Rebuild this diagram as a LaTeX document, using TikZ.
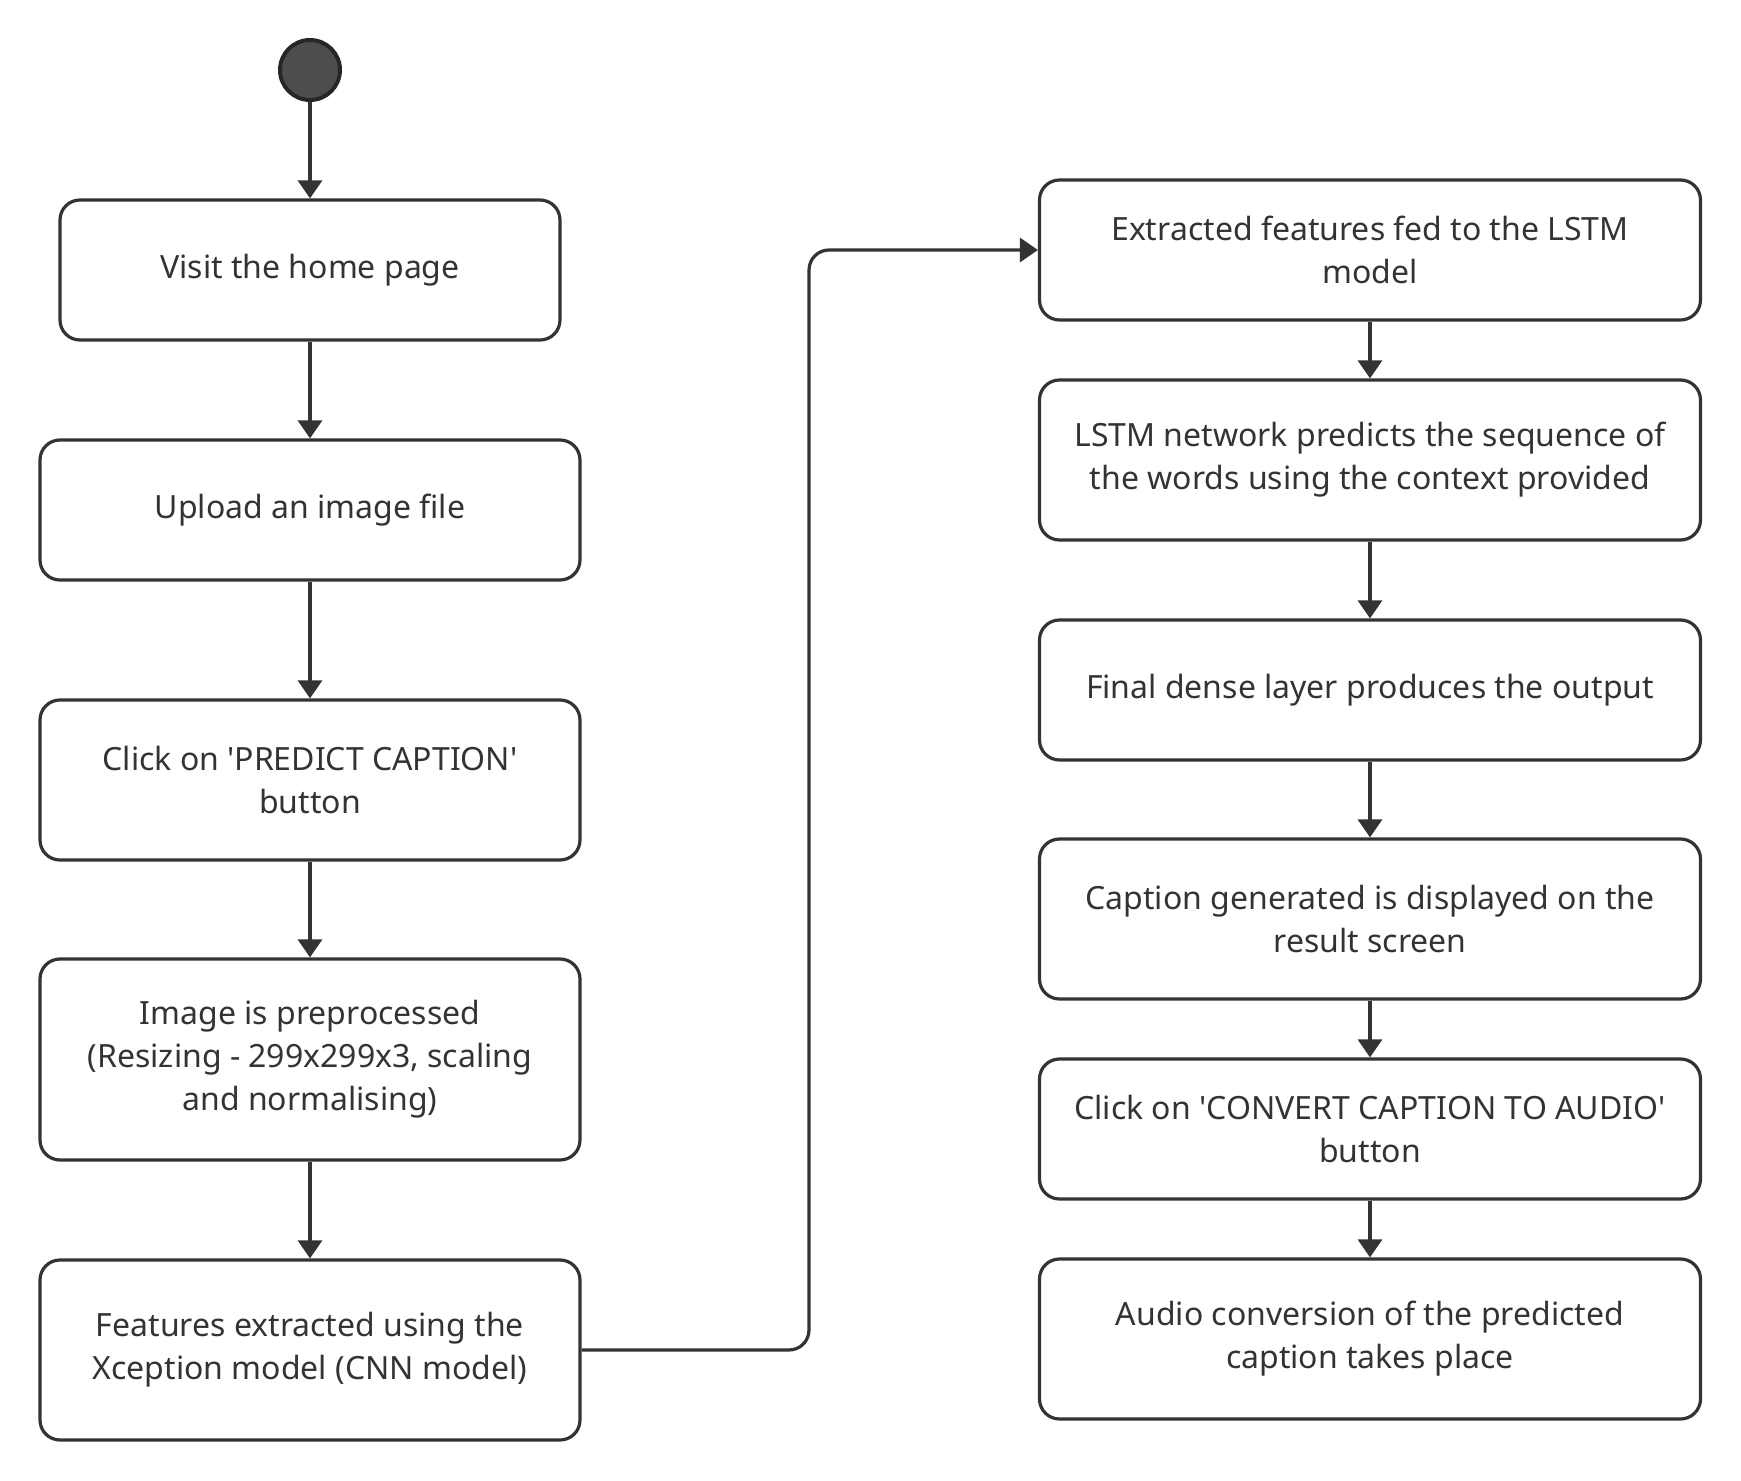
\documentclass[tikz,border=0pt]{standalone}
\usepackage{fontspec}
\setmainfont{Noto Sans}
\usetikzlibrary{arrows.meta}
\definecolor{ink}{HTML}{333333}
\definecolor{dot}{HTML}{4D4D4D}
\begin{document}
\begin{tikzpicture}[x=0.5pt, y=-0.5pt,
  every node/.style = {shape=rectangle, rounded corners=10pt,
    draw=ink, line width=1.6pt, align=center, text=ink, inner sep=0pt,
    font=\fontsize{16}{21.5}\selectfont},
  leftbox/.style = {minimum width=270pt},
  rightbox/.style = {minimum width=330.5pt},
  flow/.style = {draw=ink, line width=1.6pt, -{Triangle[width=12pt,length=9pt]}}]
  \useasboundingbox (0,0) rectangle (1741,1481);
  \node[circle, minimum size=30pt, fill=dot, draw=black!85, line width=2pt] (start) at (310,70) {};
  % left column
  \node[minimum width=250pt, minimum height=70pt] (visit) at (310,270) {Visit the home page};
  \node[leftbox, minimum height=70pt] (upload) at (310,510) {Upload an image file};
  \node[leftbox, minimum height=80pt] (predict) at (310,780) {Click on \textquotesingle PREDICT CAPTION\textquotesingle\\button};
  \node[leftbox, minimum height=100.5pt] (preproc) at (310,1059.5) {Image is preprocessed\\(Resizing - 299x299x3, scaling\\and normalising)};
  \node[leftbox, minimum height=90pt] (features) at (310,1350) {Features extracted using the\\Xception model (CNN model)};
  % right column
  \node[rightbox, minimum height=70pt] (lstmin) at (1370,250) {Extracted features fed to the LSTM\\model};
  \node[rightbox, minimum height=80pt] (lstmnet) at (1370,460) {LSTM network predicts the sequence of\\the words using the context provided};
  \node[rightbox, minimum height=70pt] (dense) at (1370,690) {Final dense layer produces the output};
  \node[rightbox, minimum height=80pt] (display) at (1370,919) {Caption generated is displayed on the\\result screen};
  \node[rightbox, minimum height=70pt] (convert) at (1370,1129) {Click on \textquotesingle CONVERT CAPTION TO AUDIO\textquotesingle\\button};
  \node[rightbox, minimum height=80pt] (audio) at (1370,1339) {Audio conversion of the predicted\\caption takes place};
  \coordinate (bend) at (809,800);
  \foreach \a/\b in {start/visit, visit/upload, upload/predict, predict/preproc, preproc/features,
    lstmin/lstmnet, lstmnet/dense, dense/display, display/convert, convert/audio}
    \draw[flow] (\a) -- (\b);
  \draw[flow, rounded corners=10pt] (features.east) -| (bend) |- (lstmin.west);
\end{tikzpicture}
\end{document}
